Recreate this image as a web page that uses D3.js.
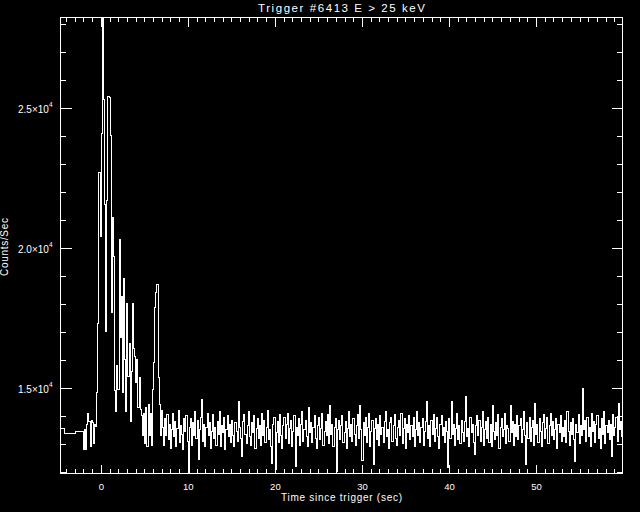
<!DOCTYPE html>
<html>
<head>
<meta charset="utf-8">
<script src="https://cdn.jsdelivr.net/npm/d3@7"></script>
<style>
    html, body { margin: 0; padding: 0; background: #000; }
    svg { display: block; }
    text { fill: #fff; font-family: "Liberation Sans", Arial, sans-serif; }
</style>
</head>
<body>
<svg id="chart" width="640" height="512"></svg>
<script>
const titleText = "Trigger #6413 E > 25 keV"
const xLabel = "Time since trigger (sec)"
const yLabel = "Counts/Sec"

const xDomain = [-4.63, 59.94]
const yDomain = [11940, 28230]
const xMajorTicks = [0, 10, 20, 30, 40, 50]
const yMajorTicks = [15000, 20000, 25000]
const yTickMantissa = ["1.5", "2.0", "2.5"]

// coarse pre-trigger bins (left edges) then fine bins from fineStart
const preEdges = [-5.0, -4.17, -2.87]
const preCounts = [13530, 13380, 13430]
const fineStart = -2.0
const fineStep = 0.128

const burstCounts = [
    12800, 13500, 12780, 13700, 14100, 13800, 12900, 13850, 13750, 13000,
    13700, 13620, 14850, 17300, 22700, 20400, 24100, 28230, 25300, 21550,
    17030, 21700, 25410, 25360, 24000, 17700, 21100, 19700, 14900, 14170,
    15800, 14950, 20300, 16800, 18260, 14830, 18900, 16000, 14150, 18000,
    15400, 16600, 13810, 15600, 18010, 16400, 16120, 15200, 16000, 14300,
    15370, 14230, 14000, 13300, 14100, 13000, 14300, 12900, 14400, 13300,
    14100, 12950, 14940, 15900, 17870, 18400, 18690, 15370, 14400, 13300,
    14200
]

const tailCounts = [
    13600, 12950, 13900, 13300, 14050, 13150, 13700, 12850, 13500, 14100,
    13250, 13800, 12900, 13550, 14200, 13050, 13650, 13350, 12800, 13900,
    13450, 14000, 13100, 11940, 13600, 13900, 12950, 13750, 13300, 14150,
    13200, 13850, 12440, 13500, 13950, 14580, 13100, 13700, 12900, 13600,
    14100, 13300, 13750, 12850, 13450, 14050, 13200, 13600, 12950, 13800,
    13350, 14150, 12900, 13650, 13400, 13950, 12800, 13500, 14000, 13250,
    13700, 13050, 13850, 13300, 12900, 13750, 13450, 13100, 14520, 13600,
    13200, 12560, 13800, 14050, 13350, 13000, 13650, 14150, 13250, 12950,
    13750, 13400, 14000, 12850, 13550, 13900, 13200, 13650, 12950, 14100,
    13300, 13850, 13050, 13600, 14200, 13150, 13500, 12900, 12290, 13700,
    13950, 12100, 13400, 13800, 13050, 14050, 13300, 12850, 13650, 13950,
    13200, 13700, 14100, 13000, 13550, 13850, 12900, 13450, 14000, 12200,
    13600, 13300, 13900, 12950, 13700, 14150, 13100, 13500, 13850, 13250,
    12900, 14310, 13400, 13750, 13050, 13600, 14000, 13200, 12850, 13650,
    13950, 13150, 13550, 14100, 12950, 13450, 13800, 13300, 14050, 13000,
    14370, 13350, 13700, 12900, 13600, 13900, 12000, 13500, 13850, 13150,
    13650, 14000, 13050, 13400, 13800, 12850, 13550, 14150, 13250, 13700,
    13100, 13900, 13350, 12950, 13650, 14050, 13200, 14370, 13500, 12400,
    13750, 13300, 13950, 13050, 13600, 14100, 12900, 13450, 13850, 12260,
    13550, 13900, 13150, 13700, 12950, 14000, 13350, 13600, 13050, 13800,
    14150, 13250, 13500, 12850, 13750, 13950, 13100, 13650, 14050, 13200,
    12950, 13600, 13850, 13300, 14100, 13000, 13550, 13900, 12850, 13700,
    13400, 14000, 13150, 13650, 13250, 13950, 12900, 13500, 14150, 13300,
    13750, 13050, 13600, 13900, 12950, 13450, 13800, 14520, 13200, 13650,
    12900, 13850, 13350, 14050, 13100, 13550, 13950, 13250, 12850, 13700,
    14000, 13300, 13600, 13050, 13800, 13450, 12150, 13900, 13200, 14520,
    13350, 13700, 12950, 13550, 14100, 13150, 13650, 13000, 13850, 13400,
    13100, 13800, 14680, 13250, 13550, 12900, 13950, 13400, 13700, 13050,
    12620, 13650, 14000, 13300, 13850, 13100, 13600, 14150, 12950, 13500,
    13800, 13200, 13950, 13050, 13700, 12900, 14370, 13450, 13150, 13750,
    13300, 14050, 12850, 13600, 13900, 13250, 13500, 14100, 13000, 13650,
    13550, 13100, 14370, 13400, 13800, 12950, 13700, 13250, 14000, 13150,
    13650, 13900, 13050, 13500, 14150, 13300, 12260, 13750, 13200, 13950,
    13100, 13600, 13850, 12950, 14440, 13350, 13700, 13050, 13900, 13450,
    12900, 13750, 14050, 13200, 13550, 13950, 13000, 13650, 14100, 13300,
    13800, 13150, 13500, 13900, 12850, 13700, 13400, 14000, 13100, 13600,
    13250, 13850, 13050, 14150, 13450, 12950, 13750, 13350, 13900, 13150,
    12370, 13700, 13400, 14050, 13000, 13650, 13300, 14970, 13500, 13850,
    13100, 13950, 13250, 13600, 12900, 14100, 13450, 13800, 13050, 13700,
    14000, 13200, 13550, 12850, 13900, 13350, 14150, 13000, 13650, 13400,
    13850, 13150, 13700, 12550, 14050, 13300, 13600, 13950, 13100, 14440,
    13500, 13800, 13250
]

const plot = { left: 60.5, right: 622.5, top: 17.5, bottom: 473.5 }

const svg = d3.select("#chart")
svg.append("rect").attr("width", 640).attr("height", 512).attr("fill", "#000")

const x = d3.scaleLinear().domain(xDomain).range([plot.left, plot.right])
const y = d3.scaleLinear().domain(yDomain).range([plot.bottom, plot.top])

// build step points from bin left edges
const fineCounts = burstCounts.concat(tailCounts)
const points = preEdges.map((t, i) => [t, preCounts[i]])
fineCounts.forEach((c, i) => points.push([fineStart + i * fineStep, c]))
points.push([fineStart + fineCounts.length * fineStep, fineCounts[fineCounts.length - 1]])

svg.append("clipPath").attr("id", "plotClip")
    .append("rect")
    .attr("x", plot.left).attr("y", plot.top)
    .attr("width", plot.right - plot.left).attr("height", plot.bottom - plot.top)

const line = d3.line()
    .x(d => x(d[0]))
    .y(d => y(d[1]))
    .curve(d3.curveStepAfter)

svg.append("path")
    .datum(points)
    .attr("clip-path", "url(#plotClip)")
    .attr("fill", "none")
    .attr("stroke", "#fff")
    .attr("stroke-width", 1)
    .attr("shape-rendering", "crispEdges")
    .attr("d", line)

// axes: ticks point inward, IDL style
const xMinor = d3.range(-4, 60, 1).filter(v => v % 10 !== 0)
const yMinor = d3.range(12000, 28001, 1000).filter(v => v % 5000 !== 0)

function styleAxis(g) {
    g.select(".domain").remove()
    g.selectAll("line").attr("stroke", "#fff").attr("shape-rendering", "crispEdges")
}

svg.append("g").attr("transform", `translate(0,${plot.bottom})`)
    .call(d3.axisBottom(x).tickValues(xMinor).tickSize(-4.5).tickFormat(""))
    .call(styleAxis)
svg.append("g").attr("transform", `translate(0,${plot.top})`)
    .call(d3.axisTop(x).tickValues(xMinor).tickSize(-4.5).tickFormat(""))
    .call(styleAxis)
svg.append("g").attr("transform", `translate(0,${plot.top})`)
    .call(d3.axisTop(x).tickValues(xMajorTicks).tickSize(-9).tickFormat(""))
    .call(styleAxis)

const xAxis = svg.append("g").attr("transform", `translate(0,${plot.bottom})`)
    .call(d3.axisBottom(x).tickValues(xMajorTicks).tickSize(-9).tickFormat(d3.format("d")))
    .call(styleAxis)
xAxis.selectAll("text")
    .attr("y", 16).attr("dy", null)
    .attr("fill", "#fff")
    .style("font-size", "9.5px")
xAxis.attr("font-family", null).attr("font-size", null)

svg.append("g").attr("transform", `translate(${plot.left},0)`)
    .call(d3.axisLeft(y).tickValues(yMinor).tickSize(-5.5).tickFormat(""))
    .call(styleAxis)
svg.append("g").attr("transform", `translate(${plot.right},0)`)
    .call(d3.axisRight(y).tickValues(yMinor).tickSize(-5.5).tickFormat(""))
    .call(styleAxis)
svg.append("g").attr("transform", `translate(${plot.right},0)`)
    .call(d3.axisRight(y).tickValues(yMajorTicks).tickSize(-11).tickFormat(""))
    .call(styleAxis)

const yAxis = svg.append("g").attr("transform", `translate(${plot.left},0)`)
    .call(d3.axisLeft(y).tickValues(yMajorTicks).tickSize(-11).tickPadding(8))
    .call(styleAxis)
yAxis.attr("font-family", null).attr("font-size", null)
yAxis.selectAll("text").each(function(d, i) {
    const t = d3.select(this)
    t.text(null).attr("dy", 4.3).attr("fill", "#fff").style("font-size", "10px")
    t.append("tspan").text(yTickMantissa[i] + "\u00d710")
    t.append("tspan").attr("dy", -6).style("font-size", "6.5px").text("4")
})

// frame
svg.append("rect")
    .attr("x", plot.left).attr("y", plot.top)
    .attr("width", plot.right - plot.left).attr("height", plot.bottom - plot.top)
    .attr("fill", "none").attr("stroke", "#fff").attr("stroke-width", 1)

// titles
const midX = (plot.left + plot.right) / 2
svg.append("text")
    .attr("x", midX).attr("y", 12)
    .attr("text-anchor", "middle")
    .attr("textLength", 167).attr("lengthAdjust", "spacing")
    .style("font-size", "11.5px")
    .text(titleText)

svg.append("text")
    .attr("x", midX).attr("y", 500.5)
    .attr("text-anchor", "middle")
    .attr("textLength", 121).attr("lengthAdjust", "spacing")
    .style("font-size", "10px")
    .text(xLabel)

svg.append("text")
    .attr("transform", `translate(7.5,247) rotate(-90)`)
    .attr("text-anchor", "middle")
    .attr("textLength", 58).attr("lengthAdjust", "spacing")
    .style("font-size", "10px")
    .text(yLabel)
</script>
</body>
</html>
